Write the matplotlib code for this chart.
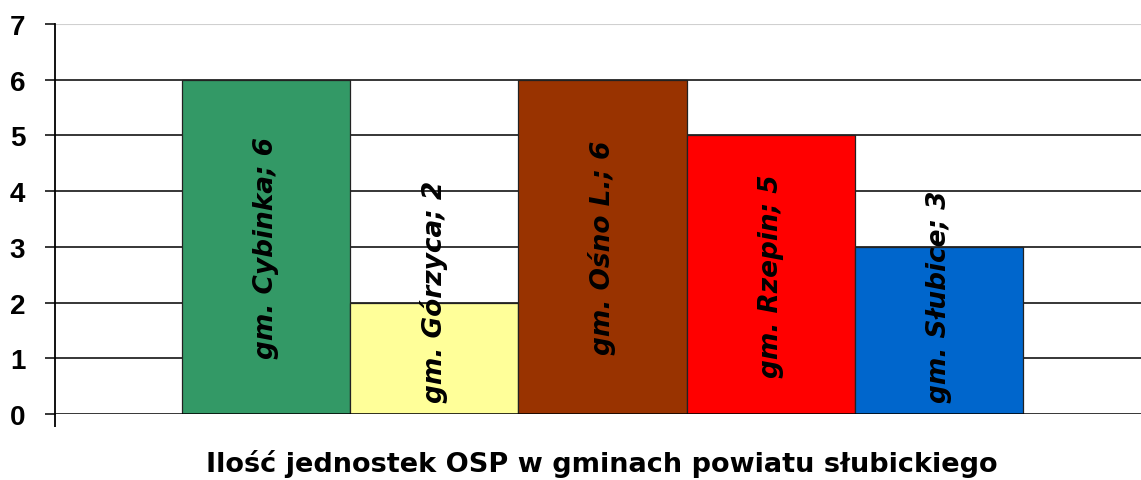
import matplotlib.pyplot as plt

gminy = ['gm. Cybinka', 'gm. Górzyca', 'gm. Ośno L.', 'gm. Rzepin', 'gm. Słubice']
jednostki = [6, 2, 6, 5, 3]
kolory = ['#339966', '#FFFF99', '#993300', '#FF0000', '#0066CC']
y_ticks = [0, 1, 2, 3, 4, 5, 6, 7]
xlabel = 'Ilość jednostek OSP w gminach powiatu słubickiego'

W, H = 1141, 481
fig = plt.figure(figsize=(W / 100, H / 100), dpi=100)
ax = fig.add_axes([55 / W, 1 - 415 / H, 1 - 55 / W, (415 - 25) / H])

pos = list(range(len(gminy)))
ax.bar(pos, jednostki, width=1.0, color=kolory, edgecolor='#222222', linewidth=0.9, zorder=3)

# gridlines, top one is light grey
for t in y_ticks[1:-1]:
    ax.axhline(t, color='black', linewidth=1.1, zorder=1)
ax.axhline(y_ticks[-1], color='#d0d0d0', linewidth=1.5, zorder=1)
ax.axhline(0, color='black', linewidth=1.1, zorder=4)

bar_px = (1023 - 182) / len(gminy)
xmin = -0.5 - (182 - 55) / bar_px
xmax = len(gminy) - 0.5 + (W - 1023) / bar_px
ax.set_xlim(xmin, xmax)
ax.set_ylim(0, 7)

for s in ['top', 'right', 'bottom']:
    ax.spines[s].set_visible(False)
ax.spines['left'].set_linewidth(1.3)
ax.spines['left'].set_zorder(5)

ax.set_yticks(y_ticks)
ax.set_yticklabels([str(t) for t in y_ticks], fontfamily='Liberation Sans',
                   fontweight='bold', fontsize=20)
ax.tick_params(axis='y', length=7.5, width=1.1, pad=14)
ax.set_xticks([xmin])
ax.set_xticklabels([''])
ax.tick_params(axis='x', length=9, width=1.3, direction='out')

ax.set_xlabel(xlabel, fontfamily='DejaVu Sans', fontweight='bold',
              fontsize=19.5, va='center')
ax.xaxis.set_label_coords((602 - 55) / (W - 55), (415 - 464) / 390)

labels = []
for p, name, v in zip(pos, gminy, jednostki):
    t = ax.text(p, v / 2, f'{name}; {v}', rotation=90, ha='center', va='center',
                fontfamily='DejaVu Sans', fontweight='bold', fontstyle='oblique',
                fontsize=19, color='black', zorder=6)
    labels.append(t)

# push short-bar labels up so they stay above the axis
fig.canvas.draw()
r = fig.canvas.get_renderer()
floor = 0.22
for t in labels:
    bb = t.get_window_extent(r).transformed(ax.transData.inverted())
    if bb.y0 < floor:
        t.set_y(floor)
        t.set_va('bottom')

fig.savefig('out.png', dpi=100, facecolor='white')
